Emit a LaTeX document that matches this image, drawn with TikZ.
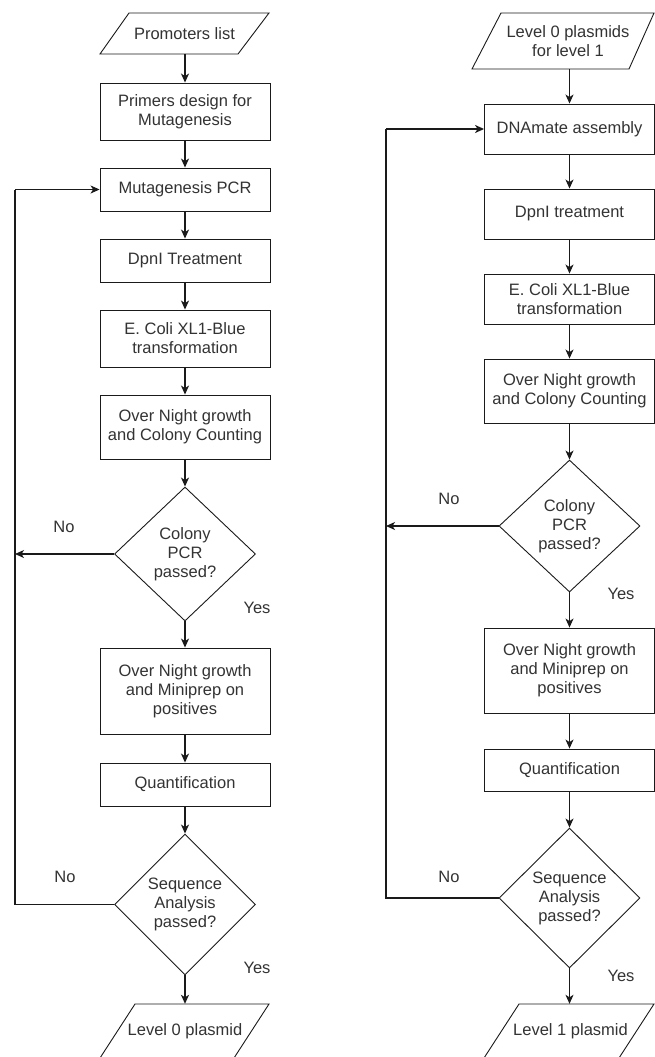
\documentclass[tikz,border=0pt]{standalone}
\usepackage{fontspec}
\setmainfont{Liberation Sans}
\usetikzlibrary{shapes.geometric,arrows.meta}
\definecolor{ln}{HTML}{1A1A1A}
\definecolor{tx}{HTML}{333333}
\begin{document}
\begin{tikzpicture}[x=1pt,y=-1pt,
  txt/.style={text=tx,font=\fontsize{16.5}{19}\selectfont,align=center},
  box/.style={txt,draw=ln,line width=0.9pt,minimum width=170pt,inner sep=0pt},
  dec/.style={txt,diamond,draw=ln,line width=0.9pt,inner sep=0pt,minimum width=141pt},
  io/.style={txt,rectangle,inner sep=0pt,minimum width=120pt},
  pgram/.style={draw=ln,line width=0.9pt},
  arr/.style={draw=ln,line width=1.2pt,-{Stealth[length=9pt,width=8pt,inset=2.5pt]}},
  loop/.style={draw=ln,line width=1.2pt},
  lbl/.style={text=tx,font=\fontsize{16.5}{19}\selectfont}]
\useasboundingbox (0,0) rectangle (655,1057);
\clip (0,0) rectangle (655,1057);
\fill[white] (0,0) rectangle (655,1057);

% ---------------- left column ----------------
\node[io,minimum height=41pt] (p0) at (184.5,33.5) {Promoters list};
\draw[pgram] (129,13) -- (269,13) -- (238,54) -- (100,54) -- cycle;
\node[box,minimum height=57pt] (a1) at (185,111.5) {Primers design for\\Mutagenesis};
\node[box,minimum height=43pt] (a2) at (185,189.5) {Mutagenesis PCR};
\node[box,minimum height=43pt] (a3) at (185,260.5) {DpnI Treatment};
\node[box,minimum height=57pt] (a4) at (185,338.5) {E. Coli XL1-Blue\\transformation};
\node[box,minimum height=64pt] (a5) at (185,427) {Over Night growth\\and Colony Counting};
\node[dec,minimum height=134pt] (d1) at (185,554) {Colony\\PCR\\passed?};
\node[box,minimum height=86pt] (a7) at (185,691) {Over Night growth\\and Miniprep on\\positives};
\node[box,minimum height=43pt] (a8) at (185,784.5) {Quantification};
\node[dec,minimum height=141pt] (d2) at (185,904.5) {Sequence\\Analysis\\passed?};
\node[io,minimum height=54pt] (o0) at (185,1031) {Level 0 plasmid};
\draw[pgram] (135,1004) -- (269,1004) -- (234,1058) -- (100,1058) -- cycle;

\coordinate (lx1) at (15,554);
\coordinate (lx2) at (15,904.5);
\coordinate (lx3) at (15,189.5);

\draw[arr] (p0.south -| a1.north) -- (a1.north);
\draw[arr] (a1) -- (a2);
\draw[arr] (a2) -- (a3);
\draw[arr] (a3) -- (a4);
\draw[arr] (a4) -- (a5);
\draw[arr] (a5) -- (d1);
\draw[arr] (d1) -- (a7);
\draw[arr] (a7) -- (a8);
\draw[arr] (a8) -- (d2);
\draw[arr] (d2) -- (o0.north);
\draw[arr] (d1.west) -- (lx1);
\draw[loop] (d2.west) -- (lx2) -- (lx3);
\draw[arr] (lx3) -- (a2.west);

\node[lbl] (n1) at (64,527) {No};
\node[lbl] (y1) at (257,608) {Yes};
\node[lbl] (n2) at (65,877) {No};
\node[lbl] (y2) at (257,968) {Yes};

% ---------------- right column ----------------
\node[io,minimum height=56pt] (q0) at (568,41) {Level 0 plasmids\\for level 1};
\draw[pgram] (501,13) -- (654,13) -- (629,69) -- (472,69) -- cycle;
\node[box,minimum height=50pt] (b1) at (569.5,129) {DNAmate assembly};
\node[box,minimum height=50pt] (b2) at (569.5,214) {DpnI treatment};
\node[box,minimum height=50pt] (b3) at (569.5,299) {E. Coli XL1-Blue\\transformation};
\node[box,minimum height=64pt] (b4) at (569.5,391) {Over Night growth\\and Colony Counting};
\node[dec,minimum height=132pt] (e1) at (569.5,526) {Colony\\PCR\\passed?};
\node[box,minimum height=85pt] (b6) at (569.5,670.5) {Over Night growth\\and Miniprep on\\positives};
\node[box,minimum height=42pt] (b7) at (569.5,770) {Quantification};
\node[dec,minimum height=140pt] (e2) at (569.5,898) {Sequence\\Analysis\\passed?};
\node[io,minimum height=54pt] (o1) at (570.5,1031) {Level 1 plasmid};
\draw[pgram] (519,1004) -- (654,1004) -- (619,1058) -- (484,1058) -- cycle;

\coordinate (rx1) at (386,526);
\coordinate (rx2) at (386,898);
\coordinate (rx3) at (386,129);

\draw[arr] (q0.south -| b1.north) -- (b1.north);
\draw[arr] (b1) -- (b2);
\draw[arr] (b2) -- (b3);
\draw[arr] (b3) -- (b4);
\draw[arr] (b4.south) -- (e1.north);
\draw[arr] (e1.south) -- (b6.north);
\draw[arr] (b6) -- (b7);
\draw[arr] (b7.south) -- (e2.north);
\draw[arr] (e2.south) -- (o1.north -| e2.south);
\draw[arr] (e1.west) -- (rx1);
\draw[loop] (e2.west) -- (rx2) -- (rx3);
\draw[arr] (rx3) -- (b1.west);

\node[lbl] (n3) at (449,499) {No};
\node[lbl] (y3) at (621,594) {Yes};
\node[lbl] (n4) at (449,877) {No};
\node[lbl] (y4) at (621,976) {Yes};
\end{tikzpicture}
\end{document}
